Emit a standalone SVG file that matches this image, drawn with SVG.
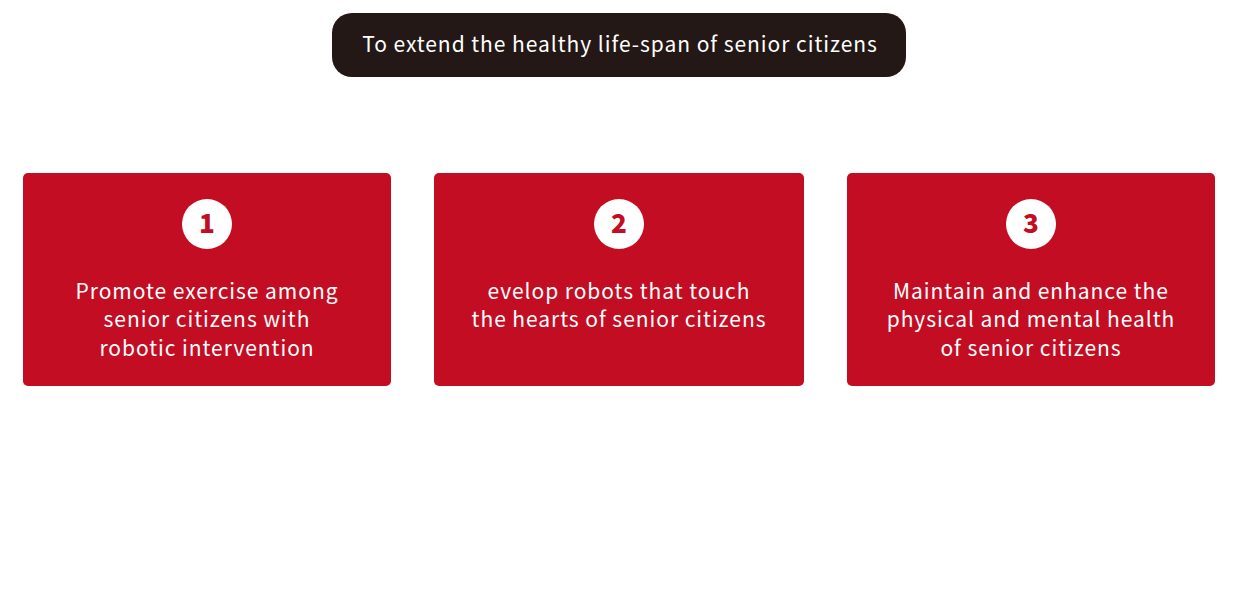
<svg xmlns="http://www.w3.org/2000/svg" width="1240" height="600" viewBox="0 0 1240 600">
<style>
.t{font-family:"Noto Sans CJK JP","Noto Sans",sans-serif;fill:#fff;text-anchor:middle;font-size:21px;letter-spacing:0.95px}
.card{fill:#c30d23}
.num{font-family:"Noto Sans CJK JP","Noto Sans",sans-serif;font-weight:900;fill:#c30d23;text-anchor:middle;font-size:26px}
</style>
<rect width="1240" height="600" fill="#fff"/>
<g id="goal">
<rect x="332" y="13" width="574" height="64" rx="20" fill="#231815"/>
<text class="t" x="620" y="52">To extend the healthy life-span of senior citizens</text>
</g>
<g id="node1">
<rect class="card" x="23" y="173" width="368" height="213" rx="5"/>
<circle cx="207" cy="224" r="25" fill="#fff"/>
<text class="num" x="207" y="233">1</text>
<text class="t" x="207" y="299">Promote exercise among</text>
<text class="t" x="207" y="327">senior citizens with</text>
<text class="t" x="207" y="356">robotic intervention</text>
</g>
<g id="node2">
<rect class="card" x="434" y="173" width="370" height="213" rx="5"/>
<circle cx="619" cy="224" r="25" fill="#fff"/>
<text class="num" x="619" y="233">2</text>
<text class="t" x="619" y="299">evelop robots that touch</text>
<text class="t" x="619" y="327">the hearts of senior citizens</text>
</g>
<g id="node3">
<rect class="card" x="847" y="173" width="368" height="213" rx="5"/>
<circle cx="1031" cy="224" r="25" fill="#fff"/>
<text class="num" x="1031" y="233">3</text>
<text class="t" x="1031" y="299">Maintain and enhance the</text>
<text class="t" x="1031" y="327">physical and mental health</text>
<text class="t" x="1031" y="356">of senior citizens</text>
</g>
<g id="connectors"/>
</svg>
